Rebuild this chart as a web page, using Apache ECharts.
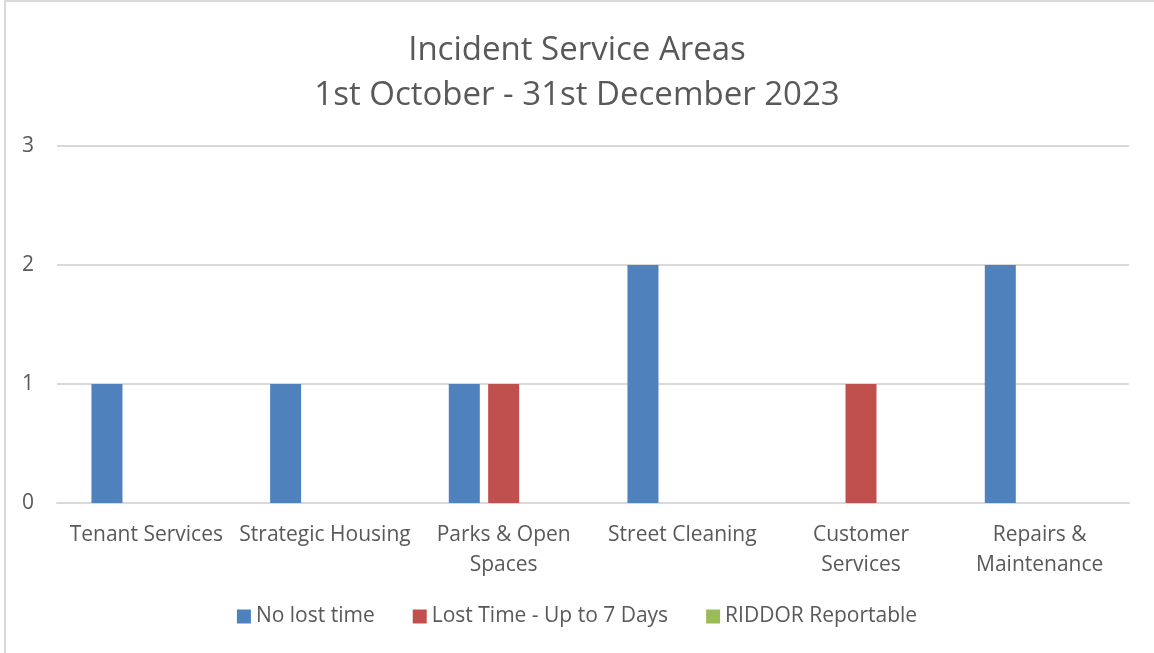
<!DOCTYPE html>
<html>
<head>
<meta charset="utf-8">
<script src="https://cdn.jsdelivr.net/npm/echarts@6/dist/echarts.min.js"></script>
<style>
  html, body { margin: 0; padding: 0; background: #fff; }
  #chart { width: 1154px; height: 653px; }
</style>
</head>
<body>
<div id="chart"></div>
<script>
var categories = ['Tenant Services', 'Strategic Housing', 'Parks & Open\nSpaces', 'Street Cleaning', 'Customer\nServices', 'Repairs &\nMaintenance'];
var noLostTime = [1, 1, 1, 2, 0, 2];
var lostTime7 = [0, 0, 1, 0, 1, 0];
var riddor = [0, 0, 0, 0, 0, 0];
var yTicks = [0, 1, 2, 3];

var font = '"Open Sans", "Liberation Sans", sans-serif';
var textColor = '#595959';

function barSeries(name, values, color) {
    return {
        name: name,
        type: 'bar',
        barWidth: 31,
        barGap: '27%',
        // zero values are not drawn, like the source chart
        data: values.map(function (v) { return v === 0 ? null : v; }),
        itemStyle: { color: color },
        emphasis: { disabled: true }
    };
}

var option = {
    backgroundColor: '#ffffff',
    animation: false,
    graphic: [{
        type: 'rect',
        shape: { x: 5, y: 1, width: 1160, height: 670 },
        style: { fill: 'none', stroke: '#D9D9D9', lineWidth: 2 },
        silent: true
    }],
    title: {
        text: 'Incident Service Areas\n1st October - 31st December 2023',
        left: 'center',
        top: 23,
        textStyle: {
            fontFamily: font,
            fontWeight: 'normal',
            fontSize: 33,
            lineHeight: 45,
            color: textColor
        }
    },
    legend: {
        bottom: 21,
        left: 'center',
        icon: 'rect',
        itemWidth: 14,
        itemHeight: 14,
        itemGap: 38,
        data: ['No lost time', 'Lost Time - Up to 7 Days', 'RIDDOR Reportable'],
        textStyle: { fontFamily: font, fontSize: 21, color: textColor }
    },
    grid: { left: 57, right: 25, top: 146, bottom: 150 },
    xAxis: {
        type: 'category',
        data: categories,
        axisLine: { lineStyle: { color: '#D9D9D9', width: 2 } },
        axisTick: { show: false },
        axisLabel: {
            interval: 0,
            margin: 17,
            fontFamily: font,
            fontSize: 21,
            lineHeight: 30,
            color: textColor
        }
    },
    yAxis: {
        type: 'value',
        min: yTicks[0],
        max: yTicks[yTicks.length - 1],
        interval: 1,
        axisLine: { show: false },
        axisTick: { show: false },
        splitLine: { lineStyle: { color: '#D9D9D9', width: 2 } },
        axisLabel: {
            margin: 23,
            fontFamily: font,
            fontSize: 21,
            color: textColor
        }
    },
    series: [
        barSeries('No lost time', noLostTime, '#4F81BD'),
        barSeries('Lost Time - Up to 7 Days', lostTime7, '#C0504D'),
        barSeries('RIDDOR Reportable', riddor, '#9BBB59')
    ]
};

var myChart = echarts.init(document.getElementById('chart'));
myChart.setOption(option);
</script>
</body>
</html>
